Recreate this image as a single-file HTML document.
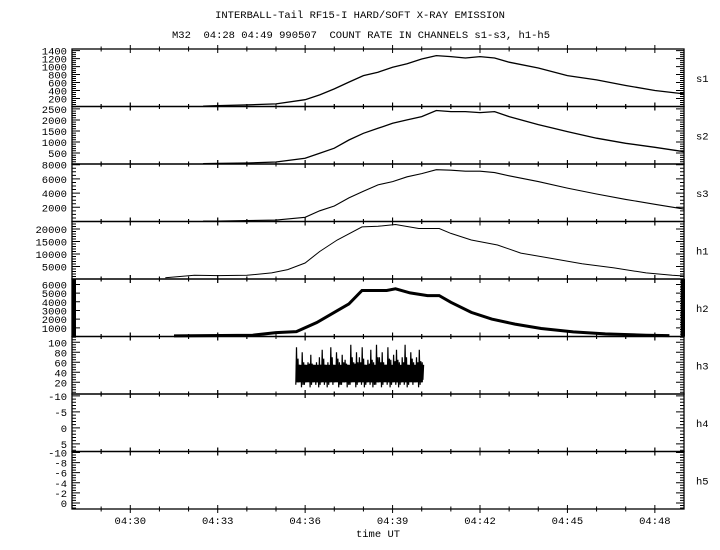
<!DOCTYPE html>
<html><head><meta charset="utf-8"><style>
html,body{margin:0;padding:0;background:#fff;}
svg{display:block;}
text{font-family:"Liberation Mono",monospace;font-size:10.5px;fill:#000;}
</style></head><body>
<svg id="chart" width="720" height="550" viewBox="0 0 720 550" xmlns="http://www.w3.org/2000/svg">
<rect width="720" height="550" fill="#fff"/>
<text x="360" y="18" text-anchor="middle">INTERBALL-Tail RF15-I HARD/SOFT X-RAY EMISSION</text>
<text x="361" y="38" text-anchor="middle" xml:space="preserve">M32  04:28 04:49 990507  COUNT RATE IN CHANNELS s1-s3, h1-h5</text>
<text x="378" y="537" text-anchor="middle">time UT</text>
<g id="g"></g>
</svg>
<script>
// minutes after 04:28
const tA = [4.5,5,6,7,8,8.5,9,9.5,10,10.5,11,11.5,12,12.5,13,13.5,14,14.5,15,16,17,18,19,20,21];
const s1 = [10,20,40,65,170,290,440,610,775,860,985,1070,1190,1275,1250,1215,1250,1215,1110,965,775,665,525,400,315];
const s2 = [15,25,45,90,260,485,715,1090,1395,1620,1850,2000,2150,2430,2380,2380,2335,2380,2150,1790,1470,1170,940,760,560];
const s3 = [50,70,140,200,590,1510,2190,3330,4250,5160,5620,6300,6750,7300,7220,7080,7080,6890,6440,5620,4700,3880,3110,2420,1740];
const tH1 = [3.2,4.2,5.0,6.0,6.85,7.4,8.0,8.5,9.1,9.95,10.5,11.1,11.9,12.6,13.0,13.7,14.6,15.4,16.4,17.5,18.6,19.7,20.6,21];
const h1 = [470,1500,1380,1500,2450,3750,6400,11000,15600,20850,21100,21800,20200,20200,18250,15600,13600,10350,8370,6120,4420,2450,1500,1200];
const tH2 = [3.5,6.2,7.0,7.7,8.4,9.1,9.5,9.95,10.8,11.1,11.6,12.2,12.6,13.0,13.7,14.4,15.2,16.1,17.2,18.3,19.7,20.5];
const h2 = [70,150,450,570,1620,2980,3760,5300,5300,5500,5030,4720,4720,3940,2780,2010,1430,920,530,300,150,100];
const h3Hi = [90,55,80,55,60,75,55,60,70,85,55,60,90,55,80,60,75,65,55,95,60,80,70,90,55,65,85,60,95,70,80,55,90,65,75,85,60,70,95,55,80,60,70,85,60];
const h3Lo = [15,20,10,15,25,10,20,15,10,20,15,10,20,15,25,10,15,20,10,15,25,10,20,15,10,20,15,10,15,20,10,25,15,10,20,15,10,20,15,10,25,15,20,10,20];
const h3Start = 7.68, h3Step = 0.098;
const xLabels = ["04:30","04:33","04:36","04:39","04:42","04:45","04:48"];
const xLabelMin = [2,5,8,11,14,17,20];
const chan = ["s1","s2","s3","h1","h2","h3","h4","h5"];
const yMin = [0,0,0,0,0,-3.4,7.4,1.2];
const yMax = [1440,2610,8100,23000,6630,111.6,-10.6,-10.2];
const yLabels = [[200,400,600,800,1000,1200,1400],[500,1000,1500,2000,2500],[2000,4000,6000,8000],[5000,10000,15000,20000],[1000,2000,3000,4000,5000,6000],[20,40,60,80,100],[-10,-5,0,5],[0,-2,-4,-6,-8,-10]];
const yMinor = [50,100,500,1000,200,5,1,0.5];

const NS="http://www.w3.org/2000/svg";
const G=document.getElementById('g');
const X0=72,X1=684,T0=0,T1=21,TOP=49,PH=57.5;
const xs=t=>X0+(t-T0)/(T1-T0)*(X1-X0);
function ys(i,v){const b=TOP+PH*(i+1),t=TOP+PH*i;return b-(v-yMin[i])/(yMax[i]-yMin[i])*(b-t);}
function mk(tag,attrs,parent){const e=document.createElementNS(NS,tag);for(const k in attrs)e.setAttribute(k,attrs[k]);(parent||G).appendChild(e);return e;}
function path(d,name,sw){const e=mk('path',{d:d,fill:'none',stroke:'#000','stroke-width':sw||1});


return e;}

for(let i=0;i<8;i++){
  const t=TOP+PH*i,b=t+PH;
  const fr=mk('rect',{x:X0,y:t,width:X1-X0,height:PH,fill:'none',stroke:'#000','stroke-width':1.3});
  
  
  let d='';
  for(let m=1;m<21;m++){const x=xs(m);const L=(m%3===2)?4:2.5;d+=`M${x},${t-L}V${t+L}M${x},${b-L}V${b+L}`;}
  const lo=Math.min(yMin[i],yMax[i]),hi=Math.max(yMin[i],yMax[i]);
  const st=yMinor[i];
  for(let v=Math.ceil(lo/st)*st;v<=hi+1e-9;v+=st){
    const y=ys(i,v);const maj=yLabels[i].some(q=>Math.abs(q-v)<1e-6);const L=maj?8:4;
    d+=`M${X0},${y}H${X0+L}M${X1},${y}H${X1-L}`;
  }
  path(d,'axis-ticks-'+chan[i],1);
  yLabels[i].forEach(v=>{const tx=mk('text',{x:X0-5,y:ys(i,v)+4,'text-anchor':'end'});tx.textContent=v;
    
    });
  const cl=mk('text',{x:696,y:t+PH/2+4});cl.textContent=chan[i];
  
  
}
xLabels.forEach((s,k)=>{const tx=mk('text',{x:xs(xLabelMin[k]),y:524,'text-anchor':'middle'});tx.textContent=s;
  
  });

function line(ts,vs,i,name,sw){let d='';ts.forEach((tt,k)=>{d+=(k?'L':'M')+xs(tt).toFixed(1)+','+ys(i,vs[k]).toFixed(1);});path(d,name,sw);}
line(tA,s1,0,'series-s1',1.3);
line(tA,s2,1,'series-s2',1.3);
line(tA,s3,2,'series-s3',1.1);
line(tH1,h1,3,'series-h1',1);
line(tH2,h2,4,'series-h2',3);
const eb1=mk('rect',{x:X0,y:TOP+PH*4,width:4,height:PH,fill:'#000'});


const eb2=mk('rect',{x:X1-3,y:TOP+PH*4,width:4,height:PH,fill:'#000'});


let d3='';
h3Hi.forEach((hv,k)=>{const tt=h3Start+k*h3Step;const x=xs(tt);const w=xs(h3Start+h3Step)-xs(h3Start);
  d3+=(k?'L':'M')+x.toFixed(1)+','+ys(5,h3Lo[k]).toFixed(1);
  d3+='L'+(x+w*0.25).toFixed(1)+','+ys(5,hv).toFixed(1);
  d3+='L'+(x+w*0.5).toFixed(1)+','+ys(5,h3Lo[k]+5).toFixed(1);
  d3+='L'+(x+w*0.75).toFixed(1)+','+ys(5,(hv+h3Lo[k])/2+15).toFixed(1);});
path(d3,'series-h3',1.2);
const body=mk('rect',{x:xs(h3Start),y:ys(5,55),width:xs(h3Start+h3Step*44.5)-xs(h3Start),height:ys(5,20)-ys(5,55),fill:'#000'});


</script>
</body></html>
